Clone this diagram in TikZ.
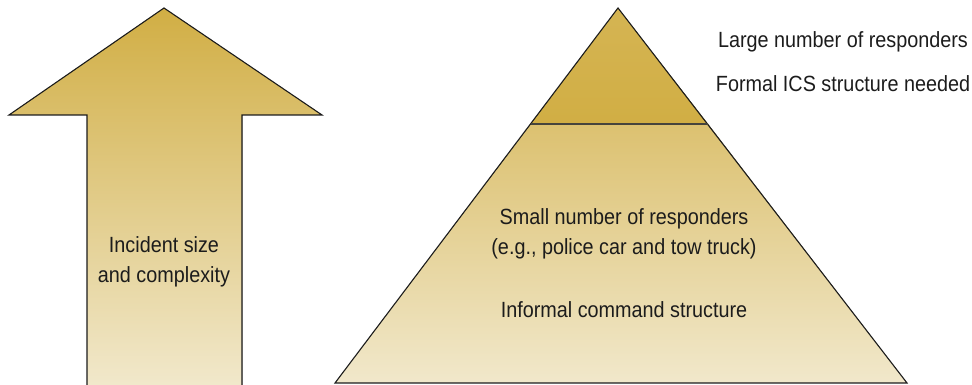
\documentclass[tikz,border=0pt]{standalone}
\usepackage{fontspec}
\setmainfont{Liberation Sans}[FakeStretch=0.9]
\usetikzlibrary{positioning}
\definecolor{icsGold}{RGB}{209,174,68}
\definecolor{icsMid}{RGB}{220,193,112}
\definecolor{icsPale}{RGB}{241,232,203}
\definecolor{icsInk}{RGB}{28,28,28}
\definecolor{icsRule}{RGB}{70,68,60}
\tikzset{
    base/.style={font=\fontsize{22}{30}\selectfont, text=icsInk, align=center},
    note/.style={base, inner sep=0pt},
    outline/.style={draw=icsInk, line width=1.1pt, line join=miter},
    divider/.style={draw=icsRule, line width=2pt}
}

\begin{document}
\begin{tikzpicture}[x=1pt, y=1pt]
  \useasboundingbox (0,0) rectangle (972,385);

  % Arrow
  \coordinate (tip) at (164,377);
  \fill[top color=icsGold, bottom color=icsPale]
    (87,0) -- (87,270) -- (9,270) -- (tip) -- (322,270) -- (242,270) -- (242,0) -- cycle;
  \draw[outline] (87,0) -- (87,270) -- (9,270) -- (tip) -- (322,270) -- (242,270) -- (242,0);

  % Pyramid
  \coordinate (apex) at (618,377);
  \coordinate (midL) at (531,261);
  \coordinate (midR) at (708,261);
  \coordinate (baseL) at (335,2);
  \coordinate (baseR) at (907,2);
  \fill[top color=icsMid, bottom color=icsPale] (midL) -- (midR) -- (baseR) -- (baseL) -- cycle;
  \fill[top color=icsGold!92!white, bottom color=icsGold] (apex) -- (midR) -- (midL) -- cycle;
  \draw[outline] (apex) -- (baseR) -- (baseL) -- cycle;
  \draw[divider] (midL) -- (midR);

  % Labels
  \node[note] (size) at (164,123) {Incident size\\and complexity};
  \node[note] (large) at (843,343) {Large number of responders};
  \node[note, below=23pt of large] (formal) {Formal ICS structure needed};
  \node[note] (small) at (624,151) {Small number of responders\\(e.g., police car and tow truck)};
  \node[note] (informal) at (624,75) {Informal command structure};
\end{tikzpicture}
\end{document}
